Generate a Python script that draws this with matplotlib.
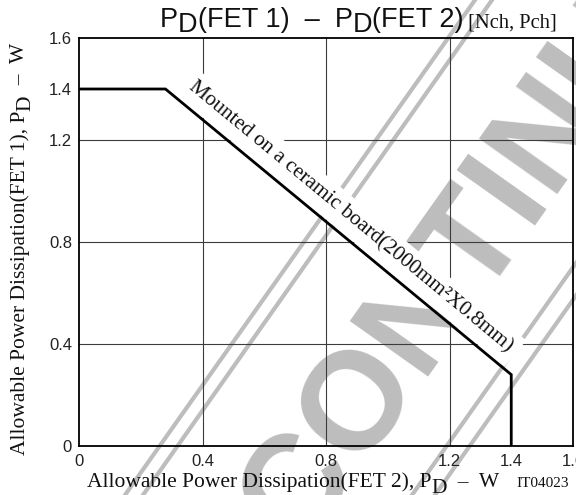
import matplotlib.pyplot as plt
from matplotlib.lines import Line2D

# P_D(FET 2) on x, P_D(FET 1) on y, in W
fet2_pd = [0.0, 0.28, 1.4, 1.4]
fet1_pd = [1.4, 1.4, 0.28, 0.0]

x_ticks = [0, 0.4, 0.8, 1.2, 1.4, 1.6]
x_tick_labels = ["0", "0.4", "0.8", "1.2", "1.4", "1.6"]
y_ticks = [0, 0.4, 0.8, 1.2, 1.4, 1.6]
y_tick_labels = ["0", "0.4", "0.8", "1.2", "1.4", "1.6"]
grid_x = [0.4, 0.8, 1.2]
grid_y = [0.4, 0.8, 1.2]

note = "Mounted on a ceramic board(2000mm\u00b2X0.8mm)"
stamp = "DISCONTINUED"

SANS = "Liberation Sans"
SERIF = "Liberation Serif"
W, H = 576, 495
GREY = "#bdbdbd"
INK = "#111111"

plt.rcParams["font.family"] = SANS

fig = plt.figure(figsize=(W / 100, H / 100), dpi=100)


def px(x, y):
    # pixel position (from top-left) -> figure fraction
    return x / W, 1 - y / H


ax = fig.add_axes([79 / W, 1 - 446 / H, 494 / W, 408 / H])
ax.set_facecolor("none")

for gx in grid_x:
    ax.axvline(gx, color="#3c3c3c", lw=0.8, zorder=1)
for gy in grid_y:
    ax.axhline(gy, color="#3c3c3c", lw=0.8, zorder=1)

ax.plot(fet2_pd, fet1_pd, color="black", lw=2.0, zorder=4, solid_joinstyle="miter")

ax.text(0.878, 0.898, note, rotation=-45, transform_rotates_text=True,
        rotation_mode="anchor", ha="center", va="center", fontsize=15.3,
        family=SERIF, color=INK, zorder=3,
        bbox=dict(boxstyle="square,pad=0.35", fc="white", ec="none"))

ax.set_xlim(0, 1.6)
ax.set_ylim(0, 1.6)
ax.set_xticks(x_ticks)
ax.set_xticklabels(x_tick_labels)
ax.set_yticks(y_ticks)
ax.set_yticklabels(y_tick_labels)
ax.tick_params(length=0, labelsize=12, labelcolor="#222222")
ax.tick_params(axis="x", pad=6)
ax.tick_params(axis="y", pad=5)
for sp in ax.spines.values():
    sp.set_linewidth(1.3)

# watermark stamp behind the axes
fig.text(*px(442, 282), stamp, rotation=54.7, rotation_mode="anchor",
         ha="center", va="center", fontsize=100, fontweight="bold",
         family=SANS, color=GREY, zorder=-2)
for (x1, y1), (x2, y2) in [((475, 0), (125, 495)), ((492, 0), (143, 495)),
                           ((762, 0), (412, 495)), ((785, 0), (435, 495))]:
    fig.add_artist(Line2D([x1 / W, x2 / W], [1 - y1 / H, 1 - y2 / H],
                          transform=fig.transFigure, color=GREY, lw=3, zorder=-2))


def run(x, y, parts, rotation=0):
    # parts: (text, drop in points, size, family); drop lowers a piece (subscript)
    s, drop, size, fam = parts[0]
    last = fig.text(*px(x, y), s, fontsize=size, family=fam, color=INK,
                    rotation=rotation, rotation_mode="anchor", ha="left", va="baseline")
    prev = drop
    for s, drop, size, fam in parts[1:]:
        d = drop - prev
        if rotation == 90:
            last = ax.annotate(s, xy=(0, 1), xycoords=last, xytext=(d, 0),
                               textcoords="offset points", rotation=90,
                               ha="left", va="bottom", fontsize=size, family=fam,
                               color=INK, annotation_clip=False)
        else:
            last = ax.annotate(s, xy=(1, 0), xycoords=last, xytext=(0, -d),
                               textcoords="offset points",
                               ha="left", va="bottom", fontsize=size, family=fam,
                               color=INK, annotation_clip=False)
        prev = drop


run(160, 26.7, [("P", 0, 19.5, SANS), ("D", 3.8, 19.5, SANS),
                ("(FET 1)  \u2013  P", 0, 19.5, SANS), ("D", 3.8, 19.5, SANS),
                ("(FET 2)", 0, 19.5, SANS), (" [Nch, Pch]", 0, 14.8, SERIF)])

run(87, 487, [("Allowable Power Dissipation(FET 2), P", 0, 15.5, SERIF),
              ("D", 4.2, 15.5, SERIF), ("  \u2013  W", 0, 15.5, SERIF)])
fig.text(*px(516, 487), "IT04023", fontsize=11, family=SERIF, color=INK,
         ha="left", va="baseline")

run(25, 455, [("Allowable Power Dissipation(FET 1), P", 0, 15.5, SERIF),
              ("D", 4.2, 15.5, SERIF), ("  \u2013  W", 0, 15.5, SERIF)], rotation=90)

fig.savefig("out.png", dpi=100, facecolor="white")
